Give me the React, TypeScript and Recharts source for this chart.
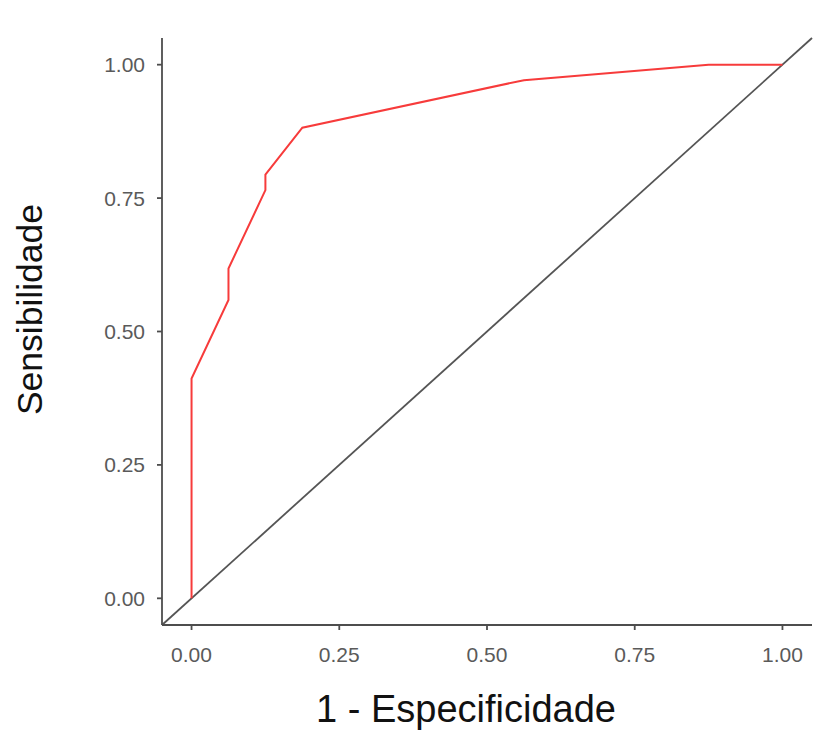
import React from 'react';
import { LineChart, Line, XAxis, YAxis, ReferenceLine, Label } from 'recharts';

const fpr = [0, 0, 0.0625, 0.0625, 0.125, 0.125, 0.1875, 0.5625, 0.875, 1];
const tpr = [0, 0.412, 0.559, 0.618, 0.765, 0.794, 0.882, 0.971, 1, 1];
const axisTicks = [0, 0.25, 0.5, 0.75, 1];
const axisDomain: [number, number] = [-0.05, 1.05];
const diagonalEnds = [-0.05, 1.05];
const xTitle = '1 - Especificidade';
const yTitle = 'Sensibilidade';

const data = fpr.map((x, i) => ({ x, y: tpr[i] }));

const FONT = '"Liberation Sans", Arial, Helvetica, sans-serif';
const AXIS = '#4d4d4d';

const fmt = (v: number) => v.toFixed(2);

const XTitle = (props: any) => {
  const { x, y, width } = props.viewBox;
  return (
    <text x={x + width / 2 - 21} y={y + 97} textAnchor="middle" fontSize={38} fontFamily={FONT} fill="#111">
      {xTitle}
    </text>
  );
};

const YTitle = (props: any) => {
  const { y, height } = props.viewBox;
  const cx = 42;
  const cy = y + height / 2 - 22;
  return (
    <text x={cx} y={cy} transform={`rotate(-90, ${cx}, ${cy})`} textAnchor="middle" fontSize={35.5} fontFamily={FONT} fill="#111">
      {yTitle}
    </text>
  );
};

export default function App() {
  return (
    <div style={{ position: 'absolute', left: 0, top: 0, width: 825, height: 731, background: '#fff' }}>
      <LineChart width={825} height={731} data={data} margin={{ top: 38, right: 13, left: 0, bottom: 0 }}>
        <XAxis
          type="number"
          dataKey="x"
          domain={axisDomain}
          ticks={axisTicks}
          tickFormatter={fmt}
          allowDataOverflow
          height={106}
          tickSize={5}
          tickMargin={17}
          axisLine={{ stroke: AXIS, strokeWidth: 1.8 }}
          tickLine={{ stroke: AXIS, strokeWidth: 1.8 }}
          tick={{ fill: '#5a5a5a', fontSize: 21, fontFamily: FONT }}
        >
          <Label content={XTitle} />
        </XAxis>
        <YAxis
          type="number"
          dataKey="y"
          domain={axisDomain}
          ticks={axisTicks}
          tickFormatter={fmt}
          allowDataOverflow
          width={162}
          tickSize={5}
          tickMargin={12}
          axisLine={{ stroke: AXIS, strokeWidth: 1.8 }}
          tickLine={{ stroke: AXIS, strokeWidth: 1.8 }}
          tick={{ fill: '#5a5a5a', fontSize: 21, fontFamily: FONT }}
        >
          <Label content={YTitle} />
        </YAxis>
        <ReferenceLine
          segment={[
            { x: diagonalEnds[0], y: diagonalEnds[0] },
            { x: diagonalEnds[1], y: diagonalEnds[1] },
          ]}
          stroke="#555"
          strokeWidth={1.8}
          ifOverflow="visible"
        />
        <Line
          type="linear"
          dataKey="y"
          stroke="#f73b3b"
          strokeWidth={2}
          dot={false}
          activeDot={false}
          isAnimationActive={false}
        />
      </LineChart>
    </div>
  );
}
